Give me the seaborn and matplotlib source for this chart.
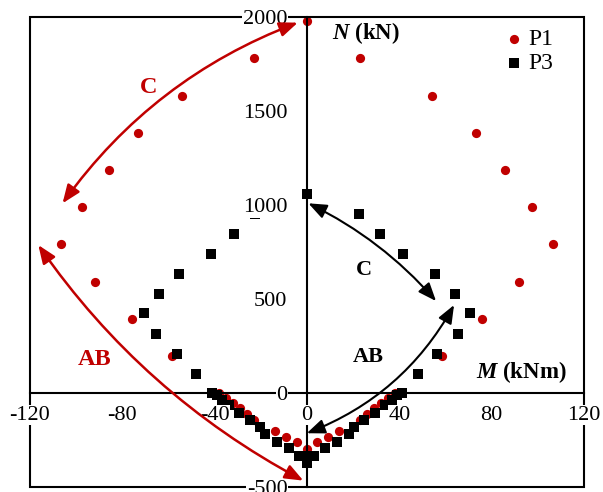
import numpy as np
import pandas as pd
import matplotlib
matplotlib.use("Agg")
import matplotlib.pyplot as plt
import seaborn as sns
from matplotlib.patches import Rectangle

# P1 (M em kNm, N em kN)
p1_m = [0, -23, -54, -73, -85.8, -97.3, -106.4, -92, -76, -58.4, -38,
        -35.2, -32.2, -29, -26, -23, -14, -9, -4.2, 0,
        4.2, 9, 14, 23, 26, 29, 32.2, 35.2, 38,
        58.4, 76, 92, 106.4, 97.3, 85.8, 73, 54, 23]
p1_n = [1980, 1780, 1580, 1383, 1186, 989, 792, 592, 394, 197, 0,
        -25, -54, -82, -113, -143, -204, -234, -262, -296,
        -262, -234, -204, -143, -113, -82, -54, -25, 0,
        197, 394, 592, 792, 989, 1186, 1383, 1580, 1780]

# P3
p3_m = [0, -22.4, -31.8, -41.5, -55.3, -64, -70.4, -65.2, -56.3, -48, -41.1,
        -39.2, -36.8, -33.8, -29.6, -24.7, -20.4, -18, -12.9, -8, -3.3, 0, 0,
        3, 8, 12.9, 18, 20.4, 24.7, 29.6, 33.8, 36.8, 39.2,
        41.1, 48, 56.3, 65.2, 70.4, 64, 55.3, 41.5, 31.8, 22.4]
p3_n = [1057, 950, 845, 739, 634, 528, 424, 315, 209, 103, 0,
        -13, -37, -64, -108, -144, -179, -220, -259, -294, -333, -333, -374,
        -333, -294, -259, -220, -179, -144, -108, -64, -37, -13,
        0, 103, 209, 315, 424, 528, 634, 739, 845, 950]

x_ticks = [-120, -80, -40, 0, 40, 80, 120]
y_ticks = [-500, 0, 500, 1000, 1500, 2000]

red = "#C00000"

sns.set_style("white")
plt.rcParams["font.family"] = ["Liberation Serif", "DejaVu Serif"]
plt.rcParams["axes.unicode_minus"] = False
plt.rcParams["mathtext.fontset"] = "custom"
plt.rcParams["mathtext.it"] = "Liberation Serif:italic:bold"
plt.rcParams["mathtext.rm"] = "Liberation Serif:bold"
plt.rcParams["text.color"] = "black"
plt.rcParams["xtick.color"] = "black"
plt.rcParams["ytick.color"] = "black"

fig = plt.figure(figsize=(6.03, 4.92), dpi=100)
ax = fig.add_axes([30 / 603, 5 / 492, 554 / 603, 470 / 492])

sns.scatterplot(x=p1_m, y=p1_n, color=red, marker="o", s=44, linewidth=0, label="P1", ax=ax)
sns.scatterplot(x=p3_m, y=p3_n, color="black", marker="s", s=50, linewidth=0, label="P3", ax=ax)

ax.set_xlim(-120, 120)
ax.set_ylim(-500, 2000)
ax.set_xticks(x_ticks)
ax.set_yticks(y_ticks)
ax.set_axisbelow(False)

# eixos passando pela origem + moldura externa
ax.spines["left"].set_position(("data", 0))
ax.spines["bottom"].set_position(("data", 0))
ax.spines["top"].set_visible(False)
ax.spines["right"].set_visible(False)
for s in ["left", "bottom"]:
    ax.spines[s].set_linewidth(1.5)
    ax.spines[s].set_color("black")
ax.add_patch(Rectangle((0, 0), 1, 1, transform=ax.transAxes, fill=False,
                       lw=1.5, ec="black", zorder=2, clip_on=False))

ax.tick_params(axis="x", direction="out", length=5, width=1.5, pad=4, labelsize=16)
ax.tick_params(axis="y", direction="out", length=4, width=1.5, pad=10, labelsize=16)
ax.set_xlabel("")
ax.set_ylabel("")
for t in ax.xaxis.get_major_ticks() + ax.yaxis.get_major_ticks():
    t.label1.set_bbox(dict(facecolor="white", edgecolor="none", pad=0.5))

# rótulos dos eixos
ax.text(10.9, 1913, r"$N$ (kN)", fontsize=16.5, fontweight="bold", ha="left", va="center")
ax.text(73.2, 113, r"$M$ (kNm)", fontsize=16.5, fontweight="bold", ha="left", va="center")

# setas
def seta(p_ini, p_fim, cor, rad, lw):
    ax.annotate("", xy=p_fim, xytext=p_ini,
                arrowprops=dict(arrowstyle="<|-|>,head_length=0.55,head_width=0.22",
                                color=cor, lw=lw, mutation_scale=20,
                                shrinkA=0, shrinkB=0,
                                connectionstyle=f"arc3,rad={rad}"))

seta((-105.9, 1009), (-4.0, 1970), red, -0.15, 1.8)
seta((-116.4, 787), (-1.6, -466), red, 0.12, 1.8)
seta((0.6, 1009), (55.9, 489), "black", -0.1, 1.5)
seta((-0.1, -214), (63.7, 468), "black", 0.18, 1.5)

ax.text(-68.7, 1626, "C", color=red, fontsize=17.5, fontweight="bold", ha="center", va="center")
ax.text(-91.9, 176, "AB", color=red, fontsize=17.5, fontweight="bold", ha="center", va="center")
ax.text(24.8, 654, "C", color="black", fontsize=16, fontweight="bold", ha="center", va="center")
ax.text(26.6, 190, "AB", color="black", fontsize=16, fontweight="bold", ha="center", va="center")

ax.legend(loc="upper right", bbox_to_anchor=(0.945, 0.975), frameon=False, fontsize=17,
          handlelength=0.6, handletextpad=0.3, labelspacing=0.1,
          borderaxespad=0, borderpad=0)

fig.savefig("out.png", dpi=100)
